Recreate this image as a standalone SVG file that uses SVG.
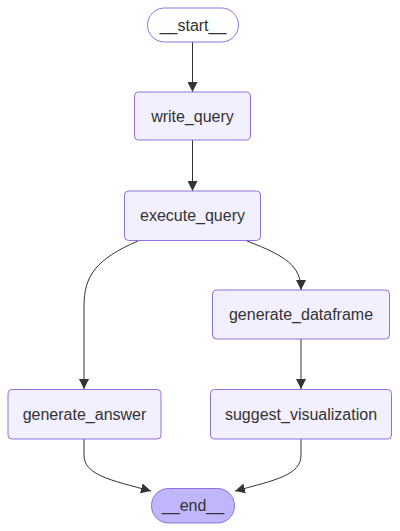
<svg xmlns="http://www.w3.org/2000/svg" width="400" height="531" viewBox="0 0 400 531">
<style>
.node rect{fill:#f2f0ff;stroke:#9370db;stroke-width:1}
.node.start rect{fill:#ffffff}
.node.end rect{fill:#bfb6fc}
.node text{font-family:"Liberation Sans",Arial,sans-serif;font-size:16px;fill:#333;text-anchor:middle;dominant-baseline:central}
.edges path{fill:none;stroke:#333;stroke-width:1}
</style>
<defs>
<marker id="arrow" viewBox="0 0 10 10" refX="10" refY="5" markerWidth="10" markerHeight="10" markerUnits="userSpaceOnUse" orient="auto">
<path d="M0,0 L10,5 L0,10 z" fill="#333"/>
</marker>
</defs>
<rect width="400" height="531" fill="#ffffff"/>
<g class="edges">
<path d="M192.5,42 L192.5,92" marker-end="url(#arrow)"/>
<path d="M192.5,140 L192.5,191" marker-end="url(#arrow)"/>
<path d="M138,241 C96,259 84,276 84,306 L84,389" marker-end="url(#arrow)"/>
<path d="M247,241 C286,256 301,266 301,290" marker-end="url(#arrow)"/>
<path d="M301,339 L301,389" marker-end="url(#arrow)"/>
<path d="M84,439 L84,455 C84,475 110,480 151,491" marker-end="url(#arrow)"/>
<path d="M301,439 L301,455 C301,475 276,480 235,491" marker-end="url(#arrow)"/>
</g>
<g id="node-start" class="node start"><rect x="147.5" y="8" width="91" height="34" rx="17"/><text x="193" y="25">__start__</text></g>
<g id="node-write_query" class="node"><rect x="134.5" y="92" width="116" height="48" rx="4"/><text x="192.5" y="116">write_query</text></g>
<g id="node-execute_query" class="node"><rect x="124.5" y="191" width="136" height="49.5" rx="4"/><text x="192.5" y="215.5">execute_query</text></g>
<g id="node-generate_dataframe" class="node"><rect x="212.5" y="290" width="177" height="49" rx="4"/><text x="301" y="314.5">generate_dataframe</text></g>
<g id="node-generate_answer" class="node"><rect x="8" y="389.5" width="153" height="49.5" rx="4"/><text x="84.5" y="414">generate_answer</text></g>
<g id="node-suggest_visualization" class="node"><rect x="210.5" y="389.5" width="181" height="49.5" rx="4"/><text x="301" y="414">suggest_visualization</text></g>
<g id="node-end" class="node end"><rect x="151.5" y="488.5" width="83" height="34.5" rx="17"/><text x="193" y="505.5">__end__</text></g>
</svg>
